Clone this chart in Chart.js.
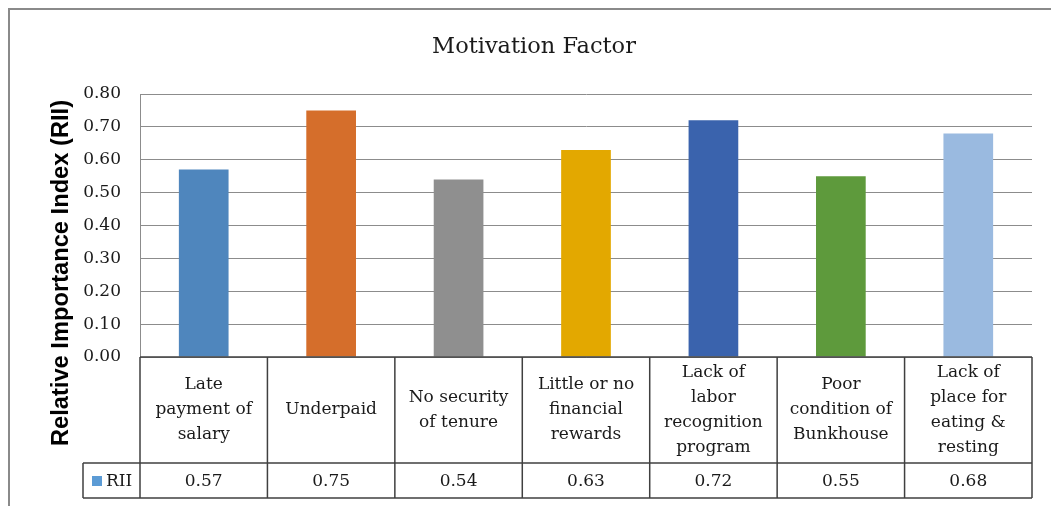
<!DOCTYPE html>
<html>
<head>
<meta charset="utf-8">
<script src="https://cdn.jsdelivr.net/npm/chart.js@4"></script>
<style>
    body { margin: 0; background: #fff; }
    #wrap { width: 1051px; height: 506px; position: relative; }
</style>
</head>
<body>
<div id="wrap"><canvas id="riiChart" width="1051" height="506"></canvas></div>
<script>
const categories = [
    ["Late", "payment of", "salary"],
    ["Underpaid"],
    ["No security", "of tenure"],
    ["Little or no", "financial", "rewards"],
    ["Lack of", "labor", "recognition", "program"],
    ["Poor", "condition of", "Bunkhouse"],
    ["Lack of", "place for", "eating &", "resting"]
];
const riiValues = [0.57, 0.75, 0.54, 0.63, 0.72, 0.55, 0.68];
const barColors = ["#4f86bd", "#d56e2b", "#8f8f8f", "#e3a800", "#3a63ad", "#5e9a3c", "#9abae0"];
const seriesName = "RII";
const legendColor = "#5b9bd5";
const chartTitle = "Motivation Factor";
const yTitle = "Relative Importance Index (RII)";

const SERIF = "'DejaVu Serif', serif";

// draws the frame, titles and the Excel-like data table under the plot
const tablePlugin = {
    id: "dataTable",
    afterDraw(chart) {
        const ctx = chart.ctx;
        const area = chart.chartArea;
        const n = categories.length;
        const step = (area.right - area.left) / n;
        const rowTop = area.bottom;
        const rowMid = rowTop + 106;
        const rowBot = rowMid + 35;
        const keyLeft = 83;

        ctx.save();

        // outer frame
        ctx.strokeStyle = "#8a8a8a";
        ctx.lineWidth = 2;
        ctx.beginPath();
        ctx.moveTo(9, 506);
        ctx.lineTo(9, 9);
        ctx.lineTo(1051, 9);
        ctx.stroke();

        // chart title
        ctx.fillStyle = "#1a1a1a";
        ctx.font = "22.5px " + SERIF;
        ctx.textAlign = "center";
        ctx.textBaseline = "middle";
        ctx.fillText(chartTitle, 534, 47);

        // y axis title
        ctx.fillStyle = "#000";
        ctx.font = "bold 23.7px 'Liberation Sans', Arial, sans-serif";
        ctx.translate(61, 273);
        ctx.rotate(-Math.PI / 2);
        ctx.fillText(yTitle, 0, 0);
        ctx.setTransform(1, 0, 0, 1, 0, 0);

        // table grid
        ctx.strokeStyle = "#404040";
        ctx.lineWidth = 1.5;
        ctx.beginPath();
        ctx.moveTo(area.left, rowTop);
        ctx.lineTo(area.right, rowTop);
        ctx.moveTo(keyLeft, rowMid);
        ctx.lineTo(area.right, rowMid);
        ctx.moveTo(keyLeft, rowBot);
        ctx.lineTo(area.right, rowBot);
        ctx.moveTo(keyLeft, rowMid);
        ctx.lineTo(keyLeft, rowBot);
        for (let i = 0; i <= n; i++) {
            const x = area.left + i * step;
            ctx.moveTo(x, rowTop);
            ctx.lineTo(x, rowBot);
        }
        ctx.stroke();

        // category labels and values
        ctx.fillStyle = "#1a1a1a";
        ctx.font = "17px " + SERIF;
        ctx.textAlign = "center";
        ctx.textBaseline = "middle";
        const lineH = 25;
        categories.forEach((lines, i) => {
            const cx = area.left + (i + 0.5) * step;
            const cy = (rowTop + rowMid) / 2;
            const y0 = cy - (lines.length - 1) * lineH / 2;
            lines.forEach((t, j) => ctx.fillText(t, cx, y0 + j * lineH));
            ctx.fillText(riiValues[i].toFixed(2), cx, (rowMid + rowBot) / 2 + 1);
        });

        // legend key
        ctx.fillStyle = legendColor;
        ctx.fillRect(92, 476, 10, 10);
        ctx.fillStyle = "#1a1a1a";
        ctx.textAlign = "left";
        ctx.fillText(seriesName, 106, (rowMid + rowBot) / 2 + 1);

        ctx.restore();
    }
};

new Chart(document.getElementById("riiChart"), {
    type: "bar",
    data: {
        labels: categories.map(c => c.join(" ")),
        datasets: [{
            label: seriesName,
            data: riiValues,
            backgroundColor: barColors,
            barPercentage: 0.39,
            categoryPercentage: 1
        }]
    },
    options: {
        responsive: false,
        animation: false,
        layout: { padding: { left: 0, right: 19, top: 94, bottom: 149 } },
        plugins: {
            legend: { display: false },
            tooltip: { enabled: false },
            title: { display: false }
        },
        scales: {
            x: {
                display: false
            },
            y: {
                min: 0,
                max: 0.8,
                afterFit(scale) { scale.width = 140; },
                border: { display: true, color: "#8c8c8c", width: 1 },
                grid: { color: "#8c8c8c", lineWidth: 1, drawTicks: false },
                ticks: {
                    stepSize: 0.1,
                    padding: 19,
                    color: "#1a1a1a",
                    font: { family: SERIF, size: 17 },
                    callback: v => v.toFixed(2)
                }
            }
        }
    },
    plugins: [tablePlugin]
});
</script>
</body>
</html>
